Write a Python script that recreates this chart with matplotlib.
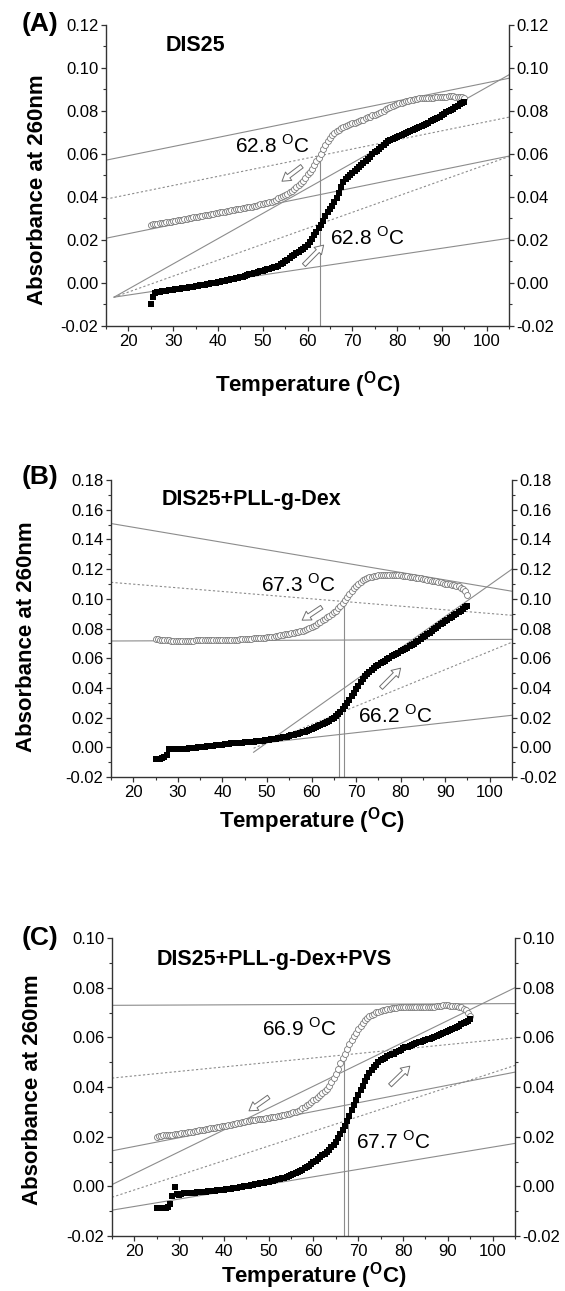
import numpy as np
import matplotlib
matplotlib.use("Agg")
import matplotlib.pyplot as plt
from matplotlib.ticker import MultipleLocator, FormatStrFormatter

plt.rcParams['font.family'] = ['Liberation Sans', 'DejaVu Sans']
plt.rcParams['mathtext.fontset'] = 'custom'
plt.rcParams['mathtext.rm'] = 'Liberation Sans'
plt.rcParams['mathtext.bf'] = 'Liberation Sans:bold'
plt.rcParams['axes.unicode_minus'] = False

# temperature grid of the read-off points (deg C), 25 .. 95 every 0.5
temp = np.arange(25, 95.5, 0.5)

# (A) DIS25  -- heating (filled squares) and cooling (open circles)
heat_a = [-0.0100, -0.0066, -0.0045, -0.0042, -0.0040, -0.0039, -0.0037, -0.0036, -0.0034, -0.0033,
          -0.0031, -0.0030, -0.0028, -0.0027, -0.0025, -0.0024, -0.0022, -0.0021, -0.0019, -0.0017,
          -0.0015, -0.0013, -0.0011, -0.0010, -0.0008, -0.0006, -0.0004, -0.0002, 0.0000, 0.0002,
          0.0004, 0.0006, 0.0008, 0.0010, 0.0012, 0.0015, 0.0017, 0.0020, 0.0022, 0.0025,
          0.0027, 0.0030, 0.0033, 0.0037, 0.0040, 0.0043, 0.0046, 0.0048, 0.0051, 0.0054,
          0.0057, 0.0060, 0.0063, 0.0066, 0.0069, 0.0072, 0.0076, 0.0081, 0.0087, 0.0094,
          0.0101, 0.0109, 0.0117, 0.0124, 0.0131, 0.0138, 0.0145, 0.0152, 0.0160, 0.0168,
          0.0178, 0.0190, 0.0205, 0.0221, 0.0238, 0.0254, 0.0270, 0.0290, 0.0310, 0.0328,
          0.0345, 0.0360, 0.0375, 0.0397, 0.0420, 0.0447, 0.0470, 0.0482, 0.0492, 0.0502,
          0.0512, 0.0521, 0.0530, 0.0540, 0.0549, 0.0559, 0.0568, 0.0578, 0.0588, 0.0598,
          0.0607, 0.0616, 0.0625, 0.0634, 0.0643, 0.0651, 0.0658, 0.0664, 0.0669, 0.0674,
          0.0679, 0.0684, 0.0688, 0.0693, 0.0698, 0.0703, 0.0708, 0.0712, 0.0717, 0.0722,
          0.0727, 0.0731, 0.0736, 0.0741, 0.0746, 0.0751, 0.0756, 0.0762, 0.0768, 0.0774,
          0.0780, 0.0786, 0.0793, 0.0799, 0.0805, 0.0811, 0.0817, 0.0823, 0.0830, 0.0836,
          0.0842]
cool_a = [0.0270, 0.0272, 0.0273, 0.0275, 0.0277, 0.0278, 0.0280, 0.0282, 0.0284, 0.0285,
          0.0287, 0.0289, 0.0291, 0.0293, 0.0295, 0.0297, 0.0299, 0.0301, 0.0303, 0.0305,
          0.0307, 0.0309, 0.0311, 0.0313, 0.0315, 0.0316, 0.0318, 0.0320, 0.0322, 0.0324,
          0.0326, 0.0328, 0.0330, 0.0332, 0.0334, 0.0336, 0.0338, 0.0340, 0.0342, 0.0343,
          0.0345, 0.0347, 0.0349, 0.0351, 0.0353, 0.0355, 0.0358, 0.0360, 0.0363, 0.0365,
          0.0368, 0.0370, 0.0373, 0.0375, 0.0378, 0.0383, 0.0388, 0.0393, 0.0398, 0.0403,
          0.0408, 0.0414, 0.0421, 0.0429, 0.0437, 0.0445, 0.0454, 0.0464, 0.0475, 0.0489,
          0.0505, 0.0517, 0.0530, 0.0547, 0.0565, 0.0583, 0.0602, 0.0621, 0.0640, 0.0658,
          0.0675, 0.0687, 0.0697, 0.0705, 0.0712, 0.0719, 0.0725, 0.0730, 0.0735, 0.0739,
          0.0742, 0.0746, 0.0749, 0.0752, 0.0756, 0.0760, 0.0765, 0.0770, 0.0774, 0.0779,
          0.0783, 0.0788, 0.0792, 0.0797, 0.0802, 0.0807, 0.0812, 0.0817, 0.0822, 0.0827,
          0.0831, 0.0835, 0.0838, 0.0841, 0.0844, 0.0847, 0.0850, 0.0853, 0.0855, 0.0857,
          0.0858, 0.0859, 0.0860, 0.0861, 0.0861, 0.0862, 0.0862, 0.0863, 0.0864, 0.0865,
          0.0866, 0.0866, 0.0867, 0.0868, 0.0868, 0.0868, 0.0867, 0.0866, 0.0865, 0.0863,
          0.0860]

# (B) DIS25+PLL-g-Dex
heat_b = [-0.0078, -0.0078, -0.0078, -0.0075, -0.0065, -0.0050, -0.0012, -0.0012, -0.0012, -0.0012,
          -0.0011, -0.0011, -0.0010, -0.0009, -0.0008, -0.0007, -0.0005, -0.0004, -0.0002, -0.0001,
          0.0000, 0.0002, 0.0004, 0.0006, 0.0008, 0.0010, 0.0012, 0.0014, 0.0016, 0.0018,
          0.0019, 0.0021, 0.0022, 0.0024, 0.0026, 0.0028, 0.0029, 0.0030, 0.0031, 0.0032,
          0.0033, 0.0035, 0.0036, 0.0037, 0.0038, 0.0040, 0.0042, 0.0044, 0.0046, 0.0048,
          0.0050, 0.0052, 0.0054, 0.0056, 0.0059, 0.0061, 0.0064, 0.0067, 0.0070, 0.0073,
          0.0077, 0.0080, 0.0084, 0.0087, 0.0091, 0.0095, 0.0100, 0.0105, 0.0110, 0.0117,
          0.0124, 0.0130, 0.0137, 0.0144, 0.0150, 0.0157, 0.0165, 0.0172, 0.0180, 0.0189,
          0.0198, 0.0209, 0.0222, 0.0238, 0.0258, 0.0279, 0.0300, 0.0321, 0.0343, 0.0366,
          0.0390, 0.0414, 0.0438, 0.0459, 0.0478, 0.0494, 0.0508, 0.0522, 0.0535, 0.0546,
          0.0557, 0.0566, 0.0575, 0.0584, 0.0593, 0.0603, 0.0612, 0.0621, 0.0630, 0.0638,
          0.0646, 0.0654, 0.0662, 0.0671, 0.0680, 0.0689, 0.0698, 0.0708, 0.0718, 0.0729,
          0.0740, 0.0751, 0.0762, 0.0772, 0.0783, 0.0794, 0.0805, 0.0816, 0.0828, 0.0839,
          0.0850, 0.0860, 0.0870, 0.0880, 0.0890, 0.0900, 0.0910, 0.0921, 0.0932, 0.0943,
          0.0955]
cool_b = [0.0730, 0.0727, 0.0725, 0.0723, 0.0722, 0.0721, 0.0720, 0.0719, 0.0719, 0.0718,
          0.0718, 0.0718, 0.0718, 0.0718, 0.0719, 0.0719, 0.0719, 0.0719, 0.0720, 0.0720,
          0.0720, 0.0720, 0.0721, 0.0721, 0.0721, 0.0721, 0.0722, 0.0722, 0.0722, 0.0722,
          0.0723, 0.0723, 0.0724, 0.0724, 0.0725, 0.0725, 0.0726, 0.0726, 0.0727, 0.0728,
          0.0729, 0.0730, 0.0731, 0.0732, 0.0733, 0.0734, 0.0735, 0.0736, 0.0738, 0.0739,
          0.0741, 0.0742, 0.0744, 0.0746, 0.0749, 0.0751, 0.0754, 0.0757, 0.0760, 0.0763,
          0.0766, 0.0769, 0.0773, 0.0776, 0.0779, 0.0782, 0.0786, 0.0791, 0.0797, 0.0803,
          0.0810, 0.0818, 0.0827, 0.0836, 0.0845, 0.0855, 0.0865, 0.0875, 0.0885, 0.0896,
          0.0908, 0.0921, 0.0935, 0.0951, 0.0970, 0.0990, 0.1010, 0.1030, 0.1050, 0.1070,
          0.1088, 0.1103, 0.1115, 0.1125, 0.1133, 0.1139, 0.1145, 0.1149, 0.1153, 0.1156,
          0.1158, 0.1159, 0.1160, 0.1161, 0.1162, 0.1162, 0.1162, 0.1161, 0.1160, 0.1159,
          0.1157, 0.1156, 0.1155, 0.1152, 0.1150, 0.1148, 0.1145, 0.1143, 0.1140, 0.1138,
          0.1135, 0.1132, 0.1129, 0.1126, 0.1123, 0.1120, 0.1117, 0.1114, 0.1110, 0.1106,
          0.1103, 0.1100, 0.1098, 0.1094, 0.1090, 0.1087, 0.1083, 0.1076, 0.1065, 0.1050,
          0.1025]

# (C) DIS25+PLL-g-Dex+PVS
heat_c = [-0.0089, -0.0089, -0.0089, -0.0089, -0.0089, -0.0082, -0.0070, -0.0040, -0.0004, -0.0030,
          -0.0035, -0.0030, -0.0028, -0.0028, -0.0027, -0.0027, -0.0026, -0.0025, -0.0024, -0.0024,
          -0.0023, -0.0022, -0.0021, -0.0020, -0.0019, -0.0018, -0.0017, -0.0016, -0.0015, -0.0014,
          -0.0013, -0.0012, -0.0011, -0.0010, -0.0008, -0.0007, -0.0005, -0.0004, -0.0002, 0.0000,
          0.0002, 0.0003, 0.0005, 0.0007, 0.0009, 0.0010, 0.0012, 0.0014, 0.0015, 0.0017,
          0.0019, 0.0021, 0.0023, 0.0025, 0.0028, 0.0030, 0.0033, 0.0035, 0.0037, 0.0040,
          0.0044, 0.0048, 0.0052, 0.0056, 0.0061, 0.0066, 0.0072, 0.0077, 0.0083, 0.0090,
          0.0097, 0.0103, 0.0110, 0.0117, 0.0125, 0.0132, 0.0140, 0.0148, 0.0157, 0.0168,
          0.0180, 0.0194, 0.0210, 0.0227, 0.0245, 0.0265, 0.0285, 0.0306, 0.0328, 0.0348,
          0.0368, 0.0387, 0.0405, 0.0423, 0.0440, 0.0456, 0.0470, 0.0481, 0.0490, 0.0499,
          0.0507, 0.0513, 0.0518, 0.0523, 0.0527, 0.0531, 0.0535, 0.0540, 0.0545, 0.0551,
          0.0556, 0.0560, 0.0563, 0.0567, 0.0570, 0.0574, 0.0577, 0.0580, 0.0583, 0.0586,
          0.0589, 0.0592, 0.0595, 0.0598, 0.0601, 0.0604, 0.0608, 0.0612, 0.0616, 0.0620,
          0.0625, 0.0629, 0.0633, 0.0637, 0.0642, 0.0647, 0.0652, 0.0657, 0.0662, 0.0667,
          0.0672]
cool_c = [0.0200, 0.0203, 0.0204, 0.0205, 0.0206, 0.0207, 0.0207, 0.0208, 0.0209, 0.0210,
          0.0211, 0.0213, 0.0214, 0.0216, 0.0217, 0.0219, 0.0220, 0.0222, 0.0223, 0.0225,
          0.0226, 0.0228, 0.0229, 0.0231, 0.0233, 0.0235, 0.0236, 0.0238, 0.0240, 0.0242,
          0.0243, 0.0245, 0.0246, 0.0248, 0.0250, 0.0252, 0.0254, 0.0256, 0.0258, 0.0260,
          0.0262, 0.0264, 0.0266, 0.0267, 0.0268, 0.0270, 0.0271, 0.0272, 0.0273, 0.0275,
          0.0276, 0.0278, 0.0279, 0.0281, 0.0283, 0.0285, 0.0287, 0.0289, 0.0291, 0.0293,
          0.0296, 0.0298, 0.0301, 0.0304, 0.0308, 0.0314, 0.0320, 0.0327, 0.0333, 0.0340,
          0.0346, 0.0353, 0.0360, 0.0368, 0.0376, 0.0384, 0.0392, 0.0404, 0.0420, 0.0436,
          0.0453, 0.0474, 0.0495, 0.0515, 0.0535, 0.0555, 0.0573, 0.0590, 0.0605, 0.0619,
          0.0632, 0.0645, 0.0658, 0.0668, 0.0677, 0.0685, 0.0691, 0.0696, 0.0701, 0.0704,
          0.0707, 0.0710, 0.0712, 0.0714, 0.0716, 0.0718, 0.0719, 0.0720, 0.0721, 0.0722,
          0.0722, 0.0722, 0.0722, 0.0722, 0.0723, 0.0723, 0.0723, 0.0723, 0.0723, 0.0723,
          0.0723, 0.0723, 0.0723, 0.0723, 0.0724, 0.0725, 0.0726, 0.0728, 0.0729, 0.0729,
          0.0729, 0.0728, 0.0727, 0.0726, 0.0725, 0.0723, 0.0721, 0.0716, 0.0710, 0.0700,
          0.0685]

# baselines (solid) and median lines (dotted): (T0, A0, T1, A1)
solid_a = [(15, 0.0571, 105, 0.0952), (15, 0.0208, 105, 0.0590),
           (16.8, -0.0066, 105, 0.0208), (16.8, -0.0066, 105, 0.0968)]
dotted_a = [(15, 0.0390, 105, 0.0771), (16.8, -0.0066, 105, 0.0588)]
solid_b = [(15, 0.1507, 105, 0.1051), (15, 0.0716, 105, 0.0727),
           (47, 0.0022, 105, 0.0216), (47, -0.0033, 105, 0.1200)]
dotted_b = [(15, 0.1111, 105, 0.0889), (47, -0.0006, 105, 0.0708)]
solid_c = [(15, 0.0729, 105, 0.0736), (15, 0.0143, 105, 0.0460),
           (15, -0.0096, 105, 0.0173), (15, 0.0007, 105, 0.0800)]
dotted_c = [(15, 0.0436, 105, 0.0598), (15, -0.0044, 105, 0.0487)]

# melting temperatures: (Tm, absorbance where the drop line starts)
tm_a = [(62.8, 0.0614)]
tm_b = [(67.3, 0.0975), (66.2, 0.0230)]
tm_c = [(66.9, 0.0530), (67.7, 0.0267)]

# direction arrows: (T tail, A tail, T head, A head)
arrows_a = [(58.75, 0.0543, 54.3, 0.0473), (59.2, 0.0083, 63.6, 0.0176)]
arrows_b = [(62.3, 0.0944, 57.9, 0.0856), (75.6, 0.0400, 80.0, 0.0533)]
arrows_c = [(50.0, 0.0360, 45.6, 0.0304), (77.1, 0.0407, 81.5, 0.0484)]

# Tm labels: (text, T, A)
notes_a = [("62.8", 43.8, 0.0606), ("62.8", 65.0, 0.0176)]
notes_b = [("67.3", 48.6, 0.1044), ("66.2", 70.4, 0.0167)]
notes_c = [("66.9", 48.4, 0.0607), ("67.7", 69.4, 0.0153)]

titles = ["DIS25", "DIS25+PLL-g-Dex", "DIS25+PLL-g-Dex+PVS"]
letters = ["(A)", "(B)", "(C)"]

line_col = '#8c8c8c'
axis_col = '#333333'


def draw_panel(ax, heat, cool, solid, dotted, tms, arrows, notes, ylim):
    ax.set_xlim(15, 105)
    ax.set_ylim(*ylim)
    for t0, a0, t1, a1 in solid:
        ax.plot([t0, t1], [a0, a1], color=line_col, lw=0.8, zorder=1)
    for t0, a0, t1, a1 in dotted:
        ax.plot([t0, t1], [a0, a1], color=line_col, lw=0.8, ls=(0, (2, 2)), zorder=1)
    for tm, top in tms:
        ax.plot([tm, tm], [ylim[0], top], color=line_col, lw=0.8, zorder=1)
    ax.plot(temp, cool, 'o', ms=4.3, mfc='white', mec='#7a7a7a', mew=0.6, zorder=2)
    ax.plot(temp, heat, 's', ms=4.2, color='black', mew=0, zorder=3)
    for t0, a0, t1, a1 in arrows:
        ax.annotate('', xy=(t1, a1), xytext=(t0, a0),
                    arrowprops=dict(arrowstyle='simple,head_length=0.6,head_width=0.75,tail_width=0.3',
                                    fc='white', ec='#6f6f6f', lw=0.7, shrinkA=0, shrinkB=0),
                    zorder=4)
    for txt, t, a in notes:
        ax.text(t, a, txt + r' $^{\mathrm{O}}$C', fontsize=15, va='baseline', ha='left', zorder=5)

    # frame: no top line, ticks on left, right and bottom
    ax.spines['top'].set_visible(False)
    for s in ['left', 'right', 'bottom']:
        ax.spines[s].set_color(axis_col)
        ax.spines[s].set_linewidth(1.0)
    ax.xaxis.set_major_locator(MultipleLocator(10))
    ax.xaxis.set_minor_locator(MultipleLocator(5))
    ax.yaxis.set_major_locator(MultipleLocator(0.02))
    ax.yaxis.set_minor_locator(MultipleLocator(0.01))
    ax.yaxis.set_major_formatter(FormatStrFormatter('%.2f'))
    ax.tick_params(which='both', direction='out', top=False, right=True, labelright=True,
                   color=axis_col, labelsize=12, pad=2)
    ax.tick_params(which='major', length=3.5, width=0.9)
    ax.tick_params(which='minor', length=2.2, width=0.8)
    ax.set_xticks([20, 30, 40, 50, 60, 70, 80, 90, 100])


fig = plt.figure(figsize=(5.65, 12.91), dpi=100)

boxes = [[0.1876, 0.7475, 0.7133, 0.2332],
         [0.1965, 0.3981, 0.7097, 0.2301],
         [0.1982, 0.0426, 0.7133, 0.2308]]
ylims = [(-0.02, 0.12), (-0.02, 0.18), (-0.02, 0.10)]
ylab_pos = [(-0.171, 0.452), (-0.212, 0.471), (-0.196, 0.49)]
xlab_pos = [-0.196, -0.145, -0.134]
title_pos = [(0.149, 0.932), (0.127, 0.934), (0.111, 0.928)]
letter_y = [24, 477, 938]

panels = [(heat_a, cool_a, solid_a, dotted_a, tm_a, arrows_a, notes_a),
          (heat_b, cool_b, solid_b, dotted_b, tm_b, arrows_b, notes_b),
          (heat_c, cool_c, solid_c, dotted_c, tm_c, arrows_c, notes_c)]

for i, p in enumerate(panels):
    ax = fig.add_axes(boxes[i])
    draw_panel(ax, *p, ylims[i])
    ax.set_ylabel('Absorbance at 260nm', fontsize=16, fontweight='bold', va='center')
    ax.yaxis.set_label_coords(*ylab_pos[i])
    ax.set_xlabel(r'Temperature ($^{\mathbf{O}}$C)', fontsize=16, fontweight='bold', va='center')
    ax.xaxis.set_label_coords(0.5, xlab_pos[i])
    ax.text(title_pos[i][0], title_pos[i][1], titles[i], transform=ax.transAxes,
            fontsize=15.5, fontweight='bold', va='center', ha='left')
    fig.text(58 / 565, 1 - letter_y[i] / 1291, letters[i], fontsize=19, fontweight='bold',
             ha='right', va='center')

fig.savefig('out.png', dpi=100)
